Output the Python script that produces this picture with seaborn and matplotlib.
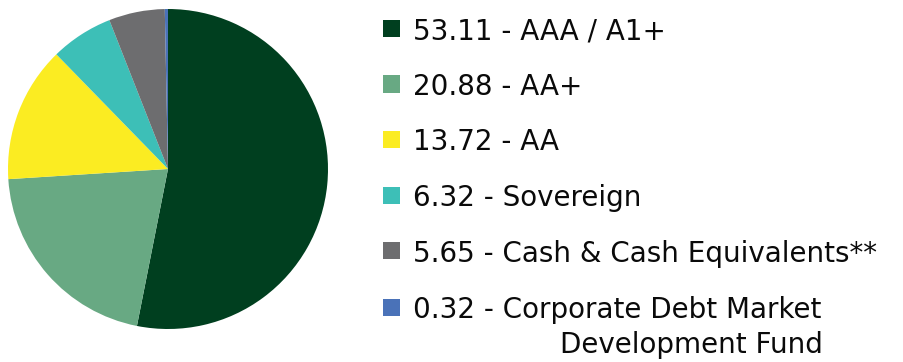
import matplotlib
matplotlib.use("Agg")
import matplotlib.pyplot as plt
import seaborn as sns
from matplotlib.patches import Rectangle

values = [53.11, 20.88, 13.72, 6.32, 5.65, 0.32]
labels = ["AAA / A1+", "AA+", "AA", "Sovereign",
          "Cash & Cash Equivalents**", "Corporate Debt Market\nDevelopment Fund"]
value_text = ["53.11", "20.88", "13.72", "6.32", "5.65", "0.32"]
colors = ["#003f1f", "#68a983", "#fbec22", "#3dbfb7", "#6d6d6f", "#4a72b8"]

sns.set_theme(style="white")
plt.rcParams["font.family"] = ["DejaVu Sans"]

W, H = 904, 362
fig = plt.figure(figsize=(W / 100, H / 100), dpi=100)
fig.patch.set_facecolor("white")

cx, cy, r = 168, 169, 160
ax = fig.add_axes([(cx - r) / W, 1 - (cy + r) / H, 2 * r / W, 2 * r / H])
ax.pie(values, colors=colors, startangle=90, counterclock=False, radius=1,
       wedgeprops=dict(linewidth=0))
ax.set_xlim(-1, 1)
ax.set_ylim(-1, 1)
ax.set_aspect("equal")
ax.axis("off")

baselines = [39.3, 95, 150.5, 206, 261.7, 318]
fs = 20
for i, (v, lab, c) in enumerate(zip(value_text, labels, colors)):
    b = baselines[i]
    sq_top = b - 19.5
    fig.patches.append(Rectangle((383 / W, 1 - (sq_top + 17) / H), 17 / W, 17 / H,
                                 transform=fig.transFigure, facecolor=c,
                                 edgecolor="none"))
    lines = lab.split("\n")
    fig.text(413 / W, 1 - b / H, f"{v} - {lines[0]}", fontsize=fs,
             color="#0a0a0a", va="baseline", ha="left")
    if len(lines) > 1:
        fig.text(560 / W, 1 - (b + 35.3) / H, lines[1], fontsize=fs,
                 color="#0a0a0a", va="baseline", ha="left")

fig.savefig("out.png", dpi=100, facecolor="white")
